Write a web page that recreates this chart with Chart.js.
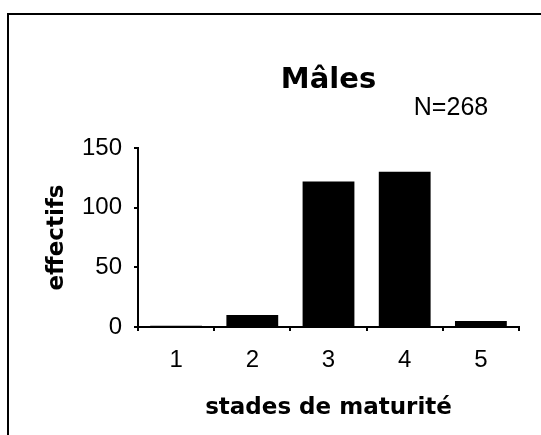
<!DOCTYPE html>
<html>
<head>
<meta charset="utf-8">
<script src="https://cdn.jsdelivr.net/npm/chart.js@4/dist/chart.umd.min.js"></script>
<style>
	html, body {
		margin: 0;
		padding: 0;
		background: #ffffff;
	}
	#chart {
		display: block;
	}
</style>
</head>
<body>
<canvas id="chart" width="541" height="435"></canvas>
<script>
const stades = ["1", "2", "3", "4", "5"];
const effectifs = [1, 10, 122, 130, 5];
const yTicks = [0, 50, 100, 150];
const titre = "Mâles";
const annotation = "N=268";

function drawFrame(chart) {
	const ctx = chart.ctx;
	const area = chart.chartArea;
	ctx.save();
	ctx.strokeStyle = "#000000";
	ctx.lineWidth = 2;
	ctx.beginPath();
	ctx.moveTo(8, 435);
	ctx.lineTo(8, 14);
	ctx.lineTo(541, 14);
	ctx.stroke();
	ctx.fillStyle = "#000000";
	ctx.textAlign = "center";
	ctx.textBaseline = "middle";
	ctx.font = "bold 29px 'DejaVu Sans'";
	ctx.fillText(titre, (area.left + area.right) / 2, 80);
	ctx.font = "25px 'Liberation Sans'";
	ctx.fillText(annotation, 451, 108);
	ctx.restore();
}

const framePlugin = {
	id: "frame",
	afterDraw: chart => drawFrame(chart)
};

function drawChart() {
	const canvas = document.getElementById("chart");
	const context = canvas.getContext("2d");
	const options = {
		type: "bar",
		data: {
			labels: stades,
			datasets: [
				{
					data: effectifs,
					backgroundColor: "#000000",
					borderWidth: 0,
					categoryPercentage: 1,
					barPercentage: 0.68
				}
			]
		},
		options: {
			responsive: false,
			animation: false,
			layout: {
				padding: {
					left: 10,
					top: 148,
					right: 22,
					bottom: 0
				}
			},
			plugins: {
				legend: {
					display: false
				},
				tooltip: {
					enabled: false
				}
			},
			scales: {
				x: {
					grid: {
						drawOnChartArea: false,
						color: "#000000",
						lineWidth: 2,
						tickLength: 4
					},
					border: {
						color: "#000000",
						width: 2
					},
					ticks: {
						color: "#000000",
						padding: 15,
						font: {
							family: "'Liberation Sans'",
							size: 24
						}
					},
					title: {
						display: true,
						text: "stades de maturité",
						color: "#000000",
						padding: {
							top: 0,
							bottom: 13
						},
						font: {
							family: "'DejaVu Sans'",
							weight: "bold",
							size: 23
						}
					},
					afterFit: scale => {
						scale.height = 108;
					}
				},
				y: {
					min: 0,
					max: 150,
					afterBuildTicks: scale => {
						scale.ticks = yTicks.map(v => ({ value: v }));
					},
					grid: {
						drawOnChartArea: false,
						color: "#000000",
						lineWidth: 2,
						tickLength: 4
					},
					border: {
						color: "#000000",
						width: 2
					},
					ticks: {
						color: "#000000",
						padding: 12,
						font: {
							family: "'Liberation Sans'",
							size: 24
						}
					},
					title: {
						display: true,
						text: "effectifs",
						color: "#000000",
						padding: {
							top: 33,
							bottom: 0
						},
						font: {
							family: "'DejaVu Sans'",
							weight: "bold",
							size: 23
						}
					},
					afterFit: scale => {
						scale.width = 128;
					}
				}
			}
		},
		plugins: [framePlugin]
	};
	new Chart(context, options);
}

document.addEventListener("DOMContentLoaded", _ => drawChart());
</script>
</body>
</html>
